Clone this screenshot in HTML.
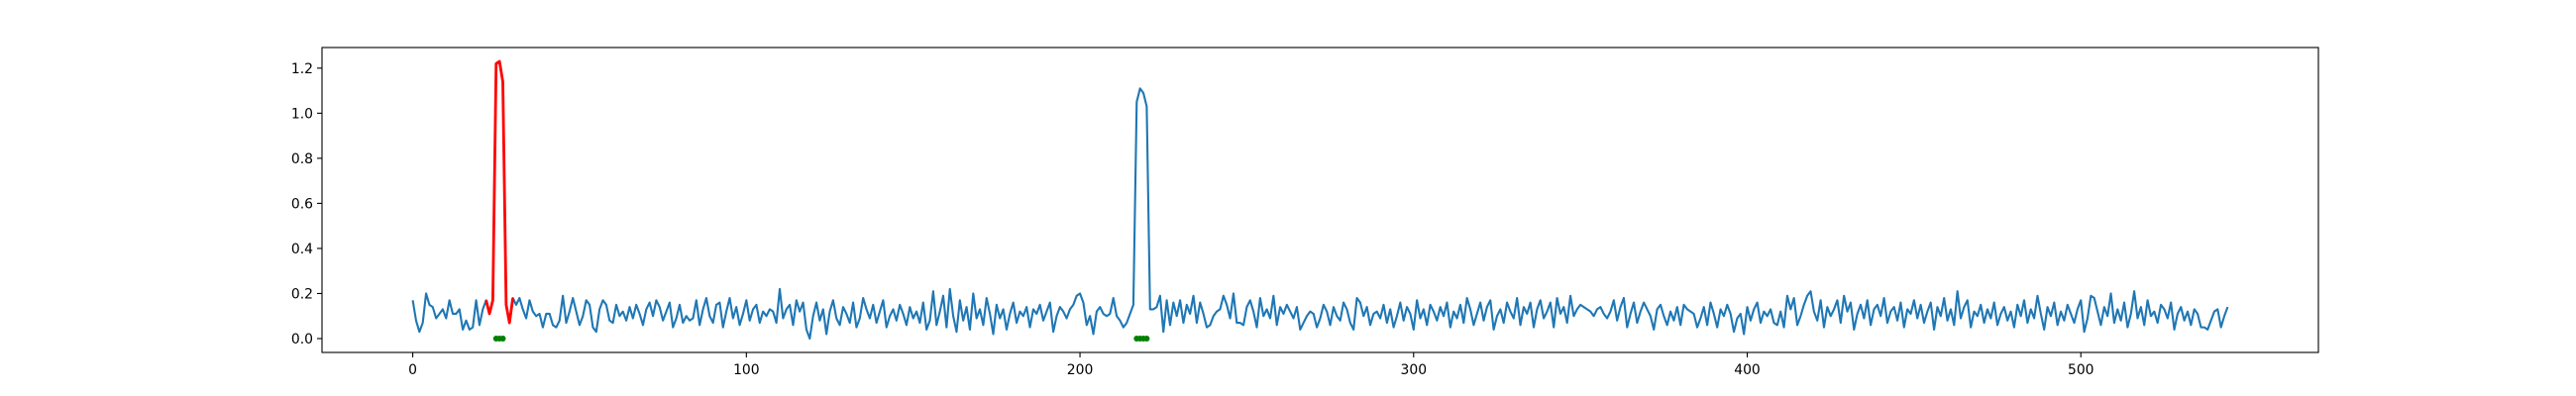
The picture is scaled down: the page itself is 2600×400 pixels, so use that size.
<!DOCTYPE html>
<html><head><meta charset="utf-8"><style>
html,body{margin:0;padding:0;background:#fff;}
svg{display:block;}
text{font-family:"DejaVu Sans","Liberation Sans",sans-serif;font-size:13.9px;fill:#000;}
</style></head><body>
<svg id="chart" width="2600" height="400" xmlns="http://www.w3.org/2000/svg"></svg>
<script>
const seriesValues = [
0.17,0.08,0.03,0.07,0.20,0.15,0.14,0.09,0.11,0.13,
0.09,0.17,0.11,0.11,0.13,0.04,0.08,0.04,0.05,0.17,
0.06,0.13,0.17,0.11,0.17,1.22,1.23,1.14,0.15,0.07,
0.18,0.15,0.18,0.13,0.09,0.17,0.12,0.10,0.11,0.05,
0.11,0.11,0.06,0.05,0.08,0.19,0.07,0.12,0.18,
0.12,0.06,0.10,0.17,0.15,0.05,0.03,0.13,0.17,0.15,
0.08,0.07,0.15,0.10,0.12,0.08,0.14,0.09,0.15,0.11,
0.06,0.13,0.16,0.10,0.17,0.14,0.08,0.12,0.16,0.05,
0.09,0.15,0.07,0.10,0.08,0.09,0.17,0.06,0.13,0.18,
0.10,0.07,0.15,0.16,0.05,0.12,0.18,0.09,0.14,0.06,
0.11,0.17,0.08,0.13,0.15,0.07,0.12,0.10,0.13,0.12,
0.07,0.22,0.09,0.13,0.15,0.06,0.17,0.12,0.16,0.04,
0.00,0.10,0.16,0.08,0.13,0.02,0.12,0.17,0.09,0.06,
0.14,0.11,0.07,0.16,0.05,0.09,0.18,0.13,0.09,0.15,
0.07,0.12,0.17,0.05,0.10,0.13,0.08,0.15,0.11,0.06,
0.14,0.09,0.12,0.07,0.16,0.04,0.08,0.21,0.06,0.12,
0.19,0.05,0.22,0.10,0.03,0.17,0.08,0.14,0.04,0.20,
0.09,0.13,0.06,0.18,0.11,0.02,0.15,0.09,0.13,0.04,
0.11,0.16,0.07,0.12,0.10,0.14,0.05,0.13,0.11,0.15,
0.08,0.12,0.16,0.03,0.10,0.14,0.12,0.09,0.13,0.15,
0.19,0.20,0.16,0.06,0.10,0.02,0.12,0.14,0.11,0.10,
0.11,0.18,0.10,0.08,0.05,0.07,0.11,0.15,
1.05,1.11,1.09,1.03,
0.13,0.13,0.14,0.19,0.03,0.17,0.06,0.16,0.10,0.17,
0.07,0.15,0.11,0.19,0.07,0.16,0.11,0.05,0.06,0.10,
0.12,0.13,0.19,0.15,0.09,0.20,0.07,0.07,0.06,0.14,
0.17,0.12,0.05,0.18,0.10,0.13,0.09,0.19,0.06,0.14,
0.11,0.15,0.12,0.09,0.14,0.04,0.07,0.10,0.12,0.11,
0.05,0.09,0.15,0.12,0.06,0.14,0.10,0.08,0.16,0.13,
0.07,0.04,0.18,0.16,0.10,0.14,0.06,0.11,0.12,0.09,
0.15,0.07,0.13,0.05,0.10,0.16,0.08,0.14,0.11,0.04,
0.17,0.09,0.13,0.06,0.15,0.12,0.08,0.14,0.10,0.16,
0.05,0.12,0.09,0.15,0.07,0.18,0.13,0.06,0.11,0.16,
0.08,0.14,0.17,0.04,0.10,0.13,0.07,0.16,0.12,0.09,
0.18,0.06,0.14,0.11,0.16,0.05,0.13,0.17,0.09,0.12,
0.16,0.05,0.18,0.11,0.14,0.07,0.19,0.10,0.13,0.15,
0.14,0.13,0.12,0.10,0.13,0.14,0.11,0.09,0.12,0.17,
0.08,0.14,0.18,0.05,0.11,0.16,0.07,0.12,0.16,0.13,
0.10,0.04,0.13,0.15,0.10,0.06,0.12,0.08,0.14,0.06,
0.15,0.13,0.12,0.11,0.05,0.09,0.14,0.06,0.16,0.11,
0.05,0.13,0.10,0.15,0.11,0.03,0.09,0.11,0.02,0.14,
0.08,0.13,0.16,0.07,0.12,0.10,0.13,0.07,0.06,0.12,
0.05,0.19,0.13,0.18,0.06,0.10,0.15,0.19,0.21,0.12,
0.08,0.17,0.05,0.14,0.10,0.13,0.17,0.07,0.19,0.12,
0.16,0.04,0.11,0.15,0.09,0.17,0.06,0.13,0.15,0.10,
0.18,0.07,0.12,0.14,0.08,0.16,0.05,0.13,0.11,0.17,
0.09,0.15,0.07,0.12,0.16,0.04,0.14,0.10,0.18,0.08,
0.13,0.06,0.21,0.09,0.14,0.17,0.05,0.12,0.10,0.15,
0.07,0.13,0.09,0.16,0.06,0.11,0.14,0.08,0.12,0.05,
0.15,0.10,0.17,0.07,0.13,0.09,0.19,0.11,0.04,0.14,
0.10,0.16,0.06,0.12,0.08,0.15,0.11,0.07,0.13,0.17,
0.03,0.09,0.19,0.18,0.12,0.06,0.14,0.10,0.20,0.07,
0.13,0.08,0.16,0.05,0.11,0.21,0.09,0.14,0.06,0.17,
0.10,0.12,0.07,0.15,0.13,0.09,0.16,0.04,0.11,0.14,
0.08,0.12,0.06,0.13,0.11,0.05,0.05,0.04,0.08,0.12,
0.13,0.05,0.10,0.14
];
const highlightRange = [22, 30];
const markerIndices = [25, 26, 27, 217, 218, 219, 220];
const markerValues = [0, 0, 0, 0, 0, 0, 0];
const xTicks = [0, 100, 200, 300, 400, 500];
const yTicks = [0.0, 0.2, 0.4, 0.6, 0.8, 1.0, 1.2];
const yTickLabels = ["0.0", "0.2", "0.4", "0.6", "0.8", "1.0", "1.2"];

const NS = "http://www.w3.org/2000/svg";
const svg = document.getElementById('chart');
const L = 325, R = 2340, T = 48, B = 356;
const n = seriesValues.length;
const xMin = -0.05 * (n - 1), xMax = (n - 1) * 1.05;
let vMax = Math.max(...seriesValues), vMin = Math.min(0, ...seriesValues);
const yr = vMax - vMin;
const yMin = vMin - 0.05 * yr, yMax = vMax + 0.05 * yr;
const xs = v => L + (v - xMin) / (xMax - xMin) * (R - L);
const ys = v => B - (v - yMin) / (yMax - yMin) * (B - T);

function mk(tag, attrs) {
  const e = document.createElementNS(NS, tag);
  for (const k in attrs) e.setAttribute(k, attrs[k]);
  svg.appendChild(e);
  return e;
}

// blue series
let d = seriesValues.map((v, i) => (i ? 'L' : 'M') + xs(i).toFixed(2) + ',' + ys(v).toFixed(2)).join('');
const blue = mk('path', {d: d, fill: 'none', stroke: '#1f77b4', 'stroke-width': 2.1, 'stroke-linejoin': 'round'});



// red highlighted segment
let rd = '';
for (let i = highlightRange[0]; i <= highlightRange[1]; i++) rd += (i === highlightRange[0] ? 'M' : 'L') + xs(i).toFixed(2) + ',' + ys(seriesValues[i]).toFixed(2);
const red = mk('path', {d: rd, fill: 'none', stroke: '#ff0000', 'stroke-width': 2.8, 'stroke-linejoin': 'round'});



// green markers
markerIndices.forEach((idx, k) => {
  const c = mk('circle', {cx: xs(idx), cy: ys(markerValues[k]), r: 3, fill: '#008000'});
  
  
});

// frame
const frame = mk('rect', {x: L, y: T, width: R - L, height: B - T, fill: 'none', stroke: '#000', 'stroke-width': 1.1});



// x ticks
xTicks.forEach(t => {
  const x = xs(t);
  const tk = mk('line', {x1: x, x2: x, y1: B, y2: B + 5, stroke: '#000', 'stroke-width': 1.1});
  
  
  const lb = mk('text', {x: x, y: B + 22, 'text-anchor': 'middle'});
  lb.textContent = String(t);
  
  
});
// y ticks
yTicks.forEach((t, k) => {
  const y = ys(t);
  const tk = mk('line', {x1: L - 5, x2: L, y1: y, y2: y, stroke: '#000', 'stroke-width': 1.1});
  
  
  const lb = mk('text', {x: L - 9, y: y + 5, 'text-anchor': 'end'});
  lb.textContent = yTickLabels[k];
  
  
});
</script>
</body></html>
